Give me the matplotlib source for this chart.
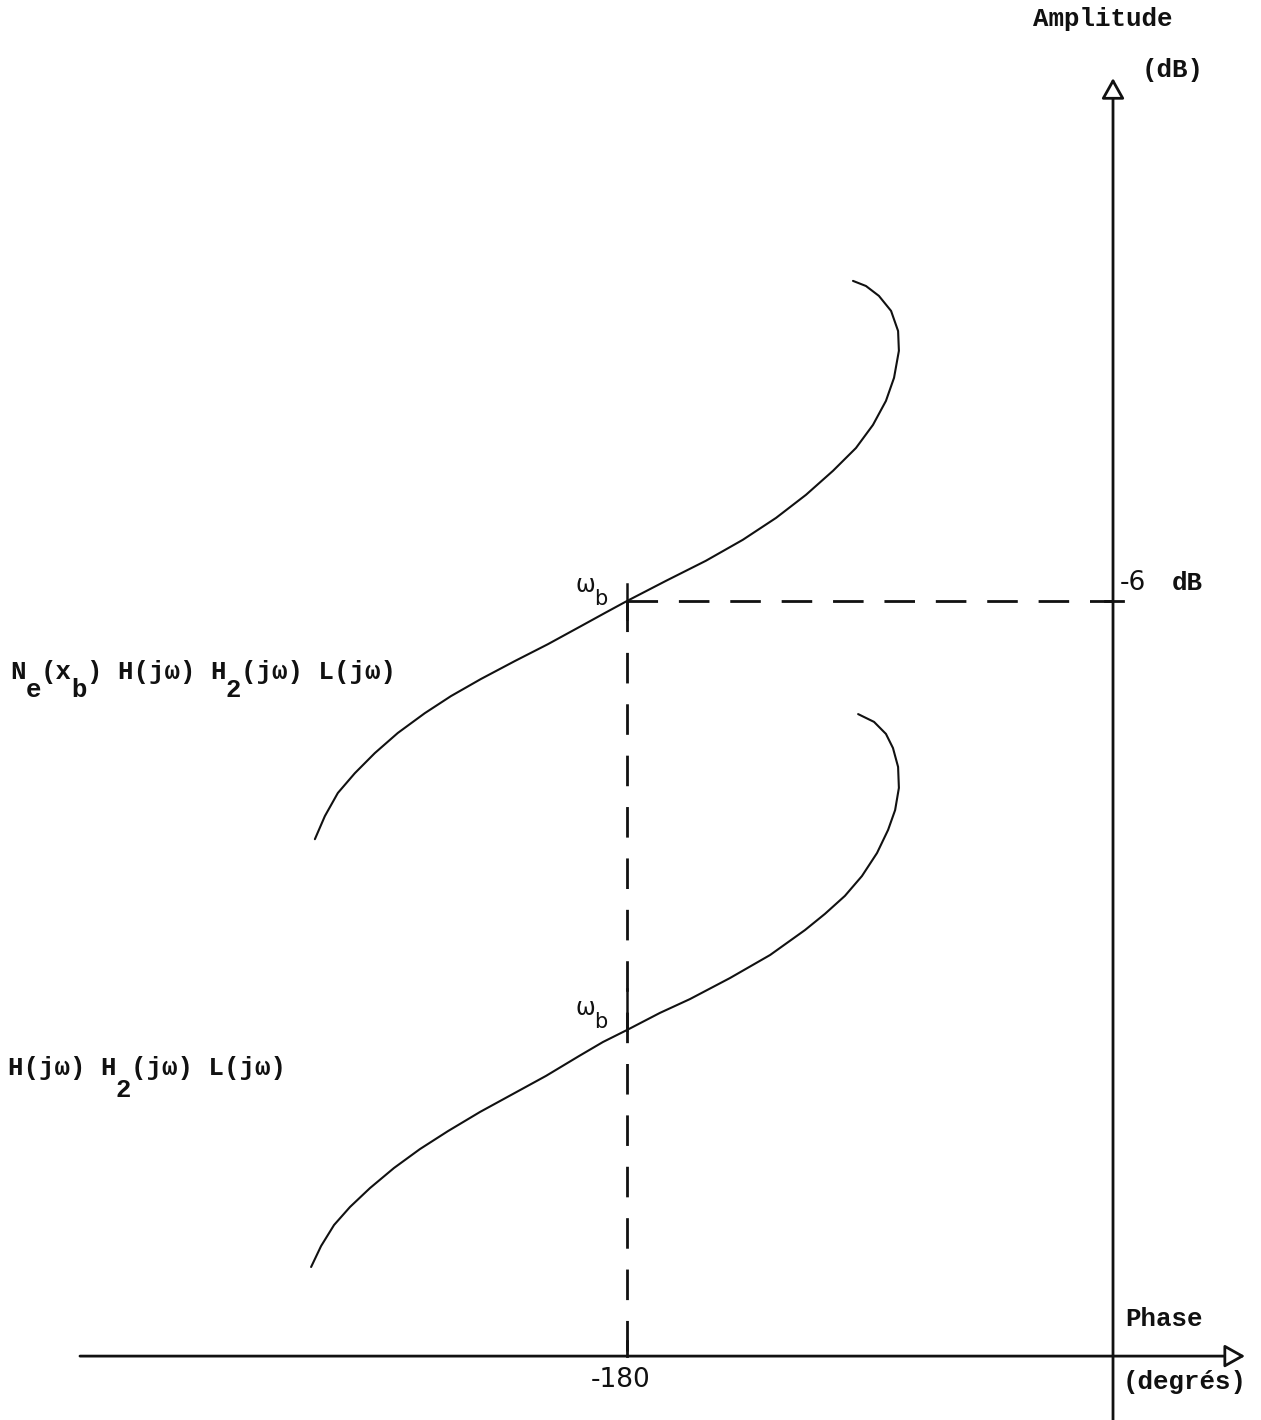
import matplotlib.pyplot as plt

plt.rcParams['lines.scale_dashes'] = False

# Black-Nichols plane: phase in degrees, amplitude in dB
upper_phase = [-295.6, -291.9, -287.1, -280.8, -273.4, -264.9, -254.9, -245.2, -234.1, -221.5,
               -209.3, -197.1, -188.2, -180.0, -165.6, -150.8, -137.1, -124.8, -113.7, -103.7,
               -95.2, -88.9, -84.1, -81.1, -79.3, -79.6, -82.2, -86.7, -91.5, -96.3]
upper_db = [-13.94, -13.17, -12.4, -11.74, -11.07, -10.4, -9.74, -9.17, -8.6, -8.0,
            -7.44, -6.84, -6.4, -6.0, -5.33, -4.66, -3.96, -3.23, -2.46, -1.66,
            -0.9, -0.13, 0.67, 1.44, 2.34, 3.0, 3.67, 4.17, 4.5, 4.67]

lower_phase = [-297.0, -293.3, -288.5, -282.6, -275.2, -266.3, -256.7, -246.3, -234.4, -222.2,
               -210.0, -197.8, -188.9, -180.0, -167.8, -156.7, -141.9, -127.0, -114.1, -106.7,
               -99.3, -93.0, -87.4, -83.3, -80.7, -79.3, -79.6, -81.5, -84.1, -88.5, -94.4]
lower_db = [-28.2, -27.5, -26.8, -26.2, -25.57, -24.9, -24.27, -23.67, -23.03, -22.43,
            -21.83, -21.17, -20.7, -20.3, -19.73, -19.27, -18.57, -17.8, -16.97, -16.43,
            -15.83, -15.17, -14.4, -13.63, -12.97, -12.23, -11.53, -10.9, -10.43, -10.03, -9.77]

phase_b = -180
gain_b = -6
gain_b_lower = -20.3

x_axis_db = -31.17
x_axis_start = -382.6
x_axis_tip = 48.9
y_axis_tip = 11.43

# typed labels: (text, lowered?) pieces
label_upper = [("N", 0), ("e", 1), ("(x", 0), ("b", 1), (") H(jω) H", 0), ("2", 1), ("(jω) L(jω)", 0)]
label_lower = [("H(jω) H", 0), ("2", 1), ("(jω) L(jω)", 0)]

ink = '#111111'
mono = 'Liberation Mono'
sans = 'DejaVu Sans'
mono_size = 18.5

fig = plt.figure(figsize=(12.61, 14.2), dpi=100)
ax = fig.add_axes([0, 0, 1, 1])
xmin, xmax = -412.22, 54.81
ax.set_xlim(xmin, xmax)
ax.set_ylim(-33.3, 14.033)
ax.axis('off')

# axes with open arrow heads
arrow = dict(arrowstyle='-|>,head_length=1.25,head_width=0.7', mutation_scale=10,
             fc='white', ec=ink, lw=2, shrinkA=0, shrinkB=0)
ax.annotate('', xy=(0, y_axis_tip), xytext=(0, -33.3), arrowprops=arrow)
ax.annotate('', xy=(x_axis_tip, x_axis_db), xytext=(x_axis_start, x_axis_db), arrowprops=arrow)

# ticks at -180 and -6 dB
ax.plot([phase_b, phase_b], [x_axis_db, x_axis_db + 0.5], color=ink, lw=2)
ax.plot([-3.0, 3.7], [gain_b, gain_b], color=ink, lw=2)

# curves
ax.plot(upper_phase, upper_db, color=ink, lw=1.5, solid_capstyle='round', solid_joinstyle='round')
ax.plot(lower_phase, lower_db, color=ink, lw=1.5, solid_capstyle='round', solid_joinstyle='round')

# construction lines through omega_b
dash = (0, (22, 15))
ax.plot([phase_b, 0], [gain_b, gain_b], color=ink, lw=2, linestyle=dash)
ax.plot([phase_b, phase_b], [gain_b, x_axis_db], color=ink, lw=2, linestyle=dash)
ax.plot([phase_b, phase_b], [gain_b + 0.55, gain_b - 0.6], color=ink, lw=1.8)
ax.plot([phase_b, phase_b], [gain_b_lower + 1.35, gain_b_lower], color=ink, lw=1.8)

# omega_b marks
for y in (-5.47, -19.57):
    ax.text(-195.6, y, "ω", family=sans, fontsize=17, color=ink, ha='center', va='center')
    ax.text(-189.6, y - 0.45, "b", family=sans, fontsize=15, color=ink, ha='center', va='center')

# axis labels
txt = dict(family=mono, fontsize=mono_size, weight='bold', color=ink, va='center')
ax.text(-3.7, 13.4, "Amplitude", ha='center', **txt)
ax.text(21.9, 11.7, "(dB)", ha='center', **txt)
ax.text(2.6, -5.4, "-6", family=sans, fontsize=19, color=ink, va='center', ha='left')
ax.text(21.9, -5.4, "dB", ha='left', **txt)
ax.text(4.4, -29.93, "Phase", ha='left', **txt)
ax.text(3.6, -32.03, "(degrés)", ha='left', **txt)
ax.text(-182.5, -31.97, "-180", family=sans, fontsize=19, color=ink, ha='center', va='center')

# one monospace character cell, in degrees
px_per_deg = fig.get_figwidth() * fig.dpi / (xmax - xmin)
cell = mono_size * fig.dpi / 72 * 0.6 / px_per_deg


def typed(x0, y_main, y_sub, parts):
    # typewriter line; lowered pieces sit half a line down
    n = 0
    for s, low in parts:
        ax.text(x0 + n * cell, y_sub if low else y_main, s, ha='left', **txt)
        n += len(s)


typed(-408.5, -8.37, -8.97, label_upper)
typed(-409.3, -21.57, -22.3, label_lower)

fig.savefig('out.png', dpi=100)
